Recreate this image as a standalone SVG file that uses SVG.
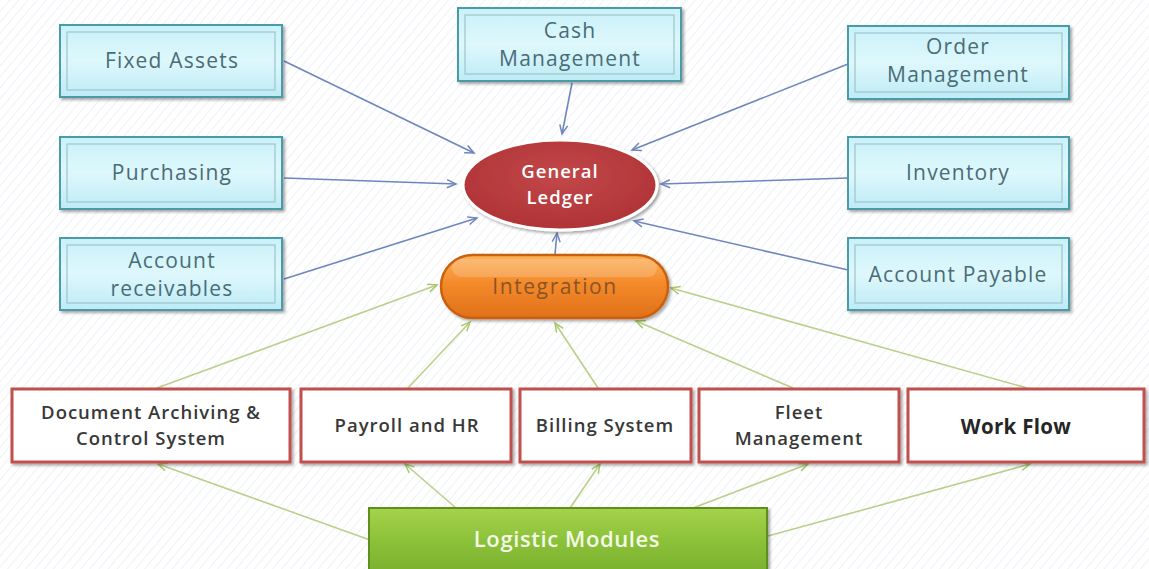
<svg xmlns="http://www.w3.org/2000/svg" width="1149" height="569" viewBox="0 0 1149 569">
<defs>
  <pattern id="stripes" width="7" height="7" patternUnits="userSpaceOnUse" patternTransform="rotate(40)">
    <rect width="7" height="7" fill="#ffffff"/>
    <line x1="0" y1="0" x2="0" y2="7" stroke="#eef1f6" stroke-width="2"/>
  </pattern>
  <linearGradient id="cyanG" x1="0" y1="0" x2="0" y2="1">
    <stop offset="0" stop-color="#c9f1f9"/>
    <stop offset="0.5" stop-color="#def8fc"/>
    <stop offset="1" stop-color="#bdebf6"/>
  </linearGradient>
  <linearGradient id="orangeG" x1="0" y1="0" x2="0" y2="1">
    <stop offset="0" stop-color="#fbb25a"/>
    <stop offset="0.45" stop-color="#f48a2a"/>
    <stop offset="1" stop-color="#e0701a"/>
  </linearGradient>
  <linearGradient id="greenG" x1="0" y1="0" x2="0" y2="1">
    <stop offset="0" stop-color="#a6d24a"/>
    <stop offset="0.5" stop-color="#8cc23a"/>
    <stop offset="1" stop-color="#7bb12e"/>
  </linearGradient>
  <radialGradient id="redG" cx="0.5" cy="0.4" r="0.6">
    <stop offset="0" stop-color="#c2484a"/>
    <stop offset="1" stop-color="#b03336"/>
  </radialGradient>
  <filter id="shadow" x="-10%" y="-10%" width="125%" height="130%">
    <feDropShadow dx="2" dy="2" stdDeviation="1.5" flood-color="#000" flood-opacity="0.35"/>
  </filter>
  <marker id="blueArrow" markerWidth="12" markerHeight="10" refX="10" refY="5" orient="auto" markerUnits="userSpaceOnUse">
    <path d="M1,1 L10,5 L1,9" fill="none" stroke="#6f86bd" stroke-width="1.5"/>
  </marker>
  <marker id="greenArrow" markerWidth="12" markerHeight="10" refX="10" refY="5" orient="auto" markerUnits="userSpaceOnUse">
    <path d="M1,1 L10,5 L1,9" fill="none" stroke="#a8c86a" stroke-width="1.5"/>
  </marker>
  <style>
    .cyan { fill: url(#cyanG); stroke: #4c9aa8; stroke-width: 2; filter: url(#shadow); }
    .inner { fill: none; stroke: #9fc4cc; stroke-width: 1.2; }
    .ctext { font-family: "Open Sans", "Liberation Sans", sans-serif; font-size: 21px; fill: #4a6c76; text-anchor: middle; letter-spacing: 1.2px; }
    .red { fill: #ffffff; stroke: #c0504d; stroke-width: 3; filter: url(#shadow); }
    .rtext { font-family: "Open Sans", "Liberation Sans", sans-serif; font-size: 18.5px; font-weight: 600; fill: #383838; text-anchor: middle; letter-spacing: 1px; }
    .blue { stroke: #6f86bd; stroke-width: 1.6; fill: none; marker-end: url(#blueArrow); }
    .green { stroke: #b9d08a; stroke-width: 1.6; fill: none; marker-end: url(#greenArrow); }
  </style>
</defs>

<rect width="1149" height="569" fill="url(#stripes)"/>

<g id="connectors">
  <line class="blue" x1="284" y1="61" x2="474" y2="153"/>
  <line class="blue" x1="572" y1="83" x2="562" y2="134"/>
  <line class="blue" x1="848" y1="64" x2="632" y2="150"/>
  <line class="blue" x1="284" y1="178" x2="456" y2="184"/>
  <line class="blue" x1="848" y1="178" x2="661" y2="184"/>
  <line class="blue" x1="284" y1="279" x2="477" y2="218"/>
  <line class="blue" x1="848" y1="270" x2="634" y2="221"/>
  <line class="blue" x1="555" y1="254" x2="557" y2="233"/>

  <line class="green" x1="157" y1="388" x2="437" y2="285"/>
  <line class="green" x1="408" y1="388" x2="470" y2="322"/>
  <line class="green" x1="598" y1="388" x2="555" y2="323"/>
  <line class="green" x1="793" y1="388" x2="636" y2="321"/>
  <line class="green" x1="1027" y1="388" x2="671" y2="288"/>

  <line class="green" x1="370" y1="540" x2="158" y2="464"/>
  <line class="green" x1="456" y1="508" x2="405" y2="464"/>
  <line class="green" x1="570" y1="508" x2="600" y2="464"/>
  <line class="green" x1="693" y1="508" x2="808" y2="464"/>
  <line class="green" x1="768" y1="536" x2="1030" y2="464"/>
</g>

<g id="fixed-assets">
  <rect class="cyan" x="60" y="25" width="222" height="72"/>
  <rect class="inner" x="67" y="32" width="208" height="58"/>
  <text class="ctext" x="172" y="68">Fixed Assets</text>
</g>
<g id="cash-management">
  <rect class="cyan" x="458" y="8" width="223" height="73"/>
  <rect class="inner" x="465" y="15" width="209" height="59"/>
  <text class="ctext" x="570" y="38">Cash</text>
  <text class="ctext" x="570" y="66">Management</text>
</g>
<g id="order-management">
  <rect class="cyan" x="848" y="26" width="221" height="73"/>
  <rect class="inner" x="855" y="33" width="207" height="59"/>
  <text class="ctext" x="958" y="54">Order</text>
  <text class="ctext" x="958" y="82">Management</text>
</g>
<g id="purchasing">
  <rect class="cyan" x="60" y="137" width="222" height="72"/>
  <rect class="inner" x="67" y="144" width="208" height="58"/>
  <text class="ctext" x="172" y="180">Purchasing</text>
</g>
<g id="inventory">
  <rect class="cyan" x="848" y="137" width="221" height="72"/>
  <rect class="inner" x="855" y="144" width="207" height="58"/>
  <text class="ctext" x="958" y="180">Inventory</text>
</g>
<g id="account-receivables">
  <rect class="cyan" x="60" y="238" width="222" height="72"/>
  <rect class="inner" x="67" y="245" width="208" height="58"/>
  <text class="ctext" x="172" y="268">Account</text>
  <text class="ctext" x="172" y="296">receivables</text>
</g>
<g id="account-payable">
  <rect class="cyan" x="848" y="238" width="221" height="72"/>
  <rect class="inner" x="855" y="245" width="207" height="58"/>
  <text class="ctext" x="958" y="282">Account Payable</text>
</g>

<g id="general-ledger">
  <ellipse cx="560" cy="185" rx="97" ry="45" fill="url(#redG)" stroke="#ffffff" stroke-width="3" filter="url(#shadow)"/>
  <text x="560" y="178" font-family="Open Sans, Liberation Sans, sans-serif" font-size="18.5px" font-weight="600" fill="#ffffff" text-anchor="middle" letter-spacing="1">General</text>
  <text x="560" y="204" font-family="Open Sans, Liberation Sans, sans-serif" font-size="18.5px" font-weight="600" fill="#ffffff" text-anchor="middle" letter-spacing="1">Ledger</text>
</g>

<g id="integration">
  <rect x="441" y="255" width="227" height="63" rx="31.5" fill="url(#orangeG)" stroke="#c9600f" stroke-width="2.5" filter="url(#shadow)"/>
  <rect x="452" y="259" width="205" height="18" rx="9" fill="#ffffff" opacity="0.18"/>
  <text x="555" y="294" font-family="Open Sans, Liberation Sans, sans-serif" font-size="21px" fill="#8a5426" text-anchor="middle" letter-spacing="1.6">Integration</text>
</g>

<g id="document-archiving">
  <rect class="red" x="12" y="389" width="278" height="73"/>
  <text class="rtext" x="151" y="419">Document Archiving &amp;</text>
  <text class="rtext" x="151" y="445">Control System</text>
</g>
<g id="payroll-hr">
  <rect class="red" x="301" y="389" width="210" height="73"/>
  <text class="rtext" x="407" y="432">Payroll and HR</text>
</g>
<g id="billing-system">
  <rect class="red" x="520" y="389" width="171" height="73"/>
  <text class="rtext" x="605" y="432">Billing System</text>
</g>
<g id="fleet-management">
  <rect class="red" x="699" y="389" width="200" height="73"/>
  <text class="rtext" x="799" y="419">Fleet</text>
  <text class="rtext" x="799" y="445">Management</text>
</g>
<g id="work-flow">
  <rect class="red" x="908" y="389" width="236" height="73"/>
  <text x="1016" y="434" font-family="Open Sans, Liberation Sans, sans-serif" font-size="20.5px" font-weight="700" fill="#262626" text-anchor="middle" letter-spacing="0.3">Work Flow</text>
</g>

<g id="logistic-modules">
  <rect x="369" y="508" width="398" height="64" fill="url(#greenG)" stroke="#5e8e1e" stroke-width="2" filter="url(#shadow)"/>
  <text x="567" y="547" font-family="Open Sans, Liberation Sans, sans-serif" font-size="22px" font-weight="600" fill="#f4f9e8" text-anchor="middle" letter-spacing="0.6">Logistic Modules</text>
</g>
</svg>
